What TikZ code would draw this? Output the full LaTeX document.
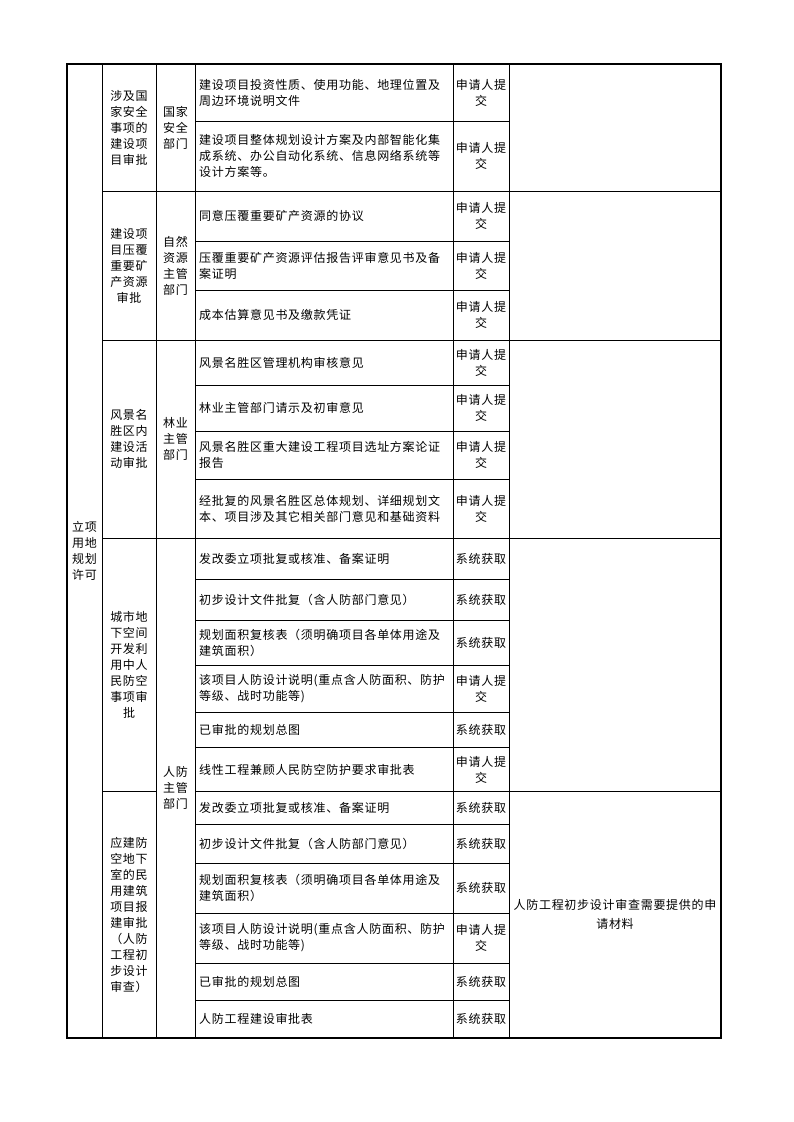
\documentclass[tikz,border=0pt]{standalone}
\usepackage{fontspec}
\newfontfamily\cjkfont[LetterSpace=6]{Noto Sans CJK SC}
\begin{document}
\begin{tikzpicture}[x=1pt, y=-1pt, font=\fontsize{12}{16}\selectfont\cjkfont,
  gridLine/.style={line width=0.9pt},
  itemText/.style={anchor=west, align=left, inner sep=0pt},
  cellText/.style={align=center, inner sep=0pt}]
	\useasboundingbox (0,0) rectangle (793,1122);
	% frame and columns
	\draw[line width=1.2pt] (67,64) rectangle (721,1038);
	\foreach \x in {102,156,195,453,509}
		\draw[gridLine] (\x,64) -- (\x,1038);
	\foreach \y in {191.5,340,538.5}
		\draw[gridLine] (102,\y) -- (721,\y);
	\draw[gridLine] (102,791.5) -- (156,791.5);
	\draw[gridLine] (195,791.5) -- (721,791.5);
	\foreach \y in {121,241,290,385,431.5,479,579.5,620,665,712.5,747.5,824.5,863,913,963,1000}
		\draw[gridLine] (195,\y) -- (509,\y);
	% merged cells
	\node[cellText] (phase) at (84.5,551) {立项\\用地\\规划\\许可};
	\node[cellText] (taskSafety) at (129,127.75) {涉及国\\家安全\\事项的\\建设项\\目审批};
	\node[cellText] (taskMineral) at (129,265.75) {建设项\\目压覆\\重要矿\\产资源\\审批};
	\node[cellText] (taskScenic) at (129,439.25) {风景名\\胜区内\\建设活\\动审批};
	\node[cellText] (taskUnder) at (129,665) {城市地\\下空间\\开发利\\用中人\\民防空\\事项审\\批};
	\node[cellText] (taskShelter) at (129,914.75) {应建防\\空地下\\室的民\\用建筑\\项目报\\建审批\\（人防\\工程初\\步设计\\审查）};
	\node[cellText] (deptSafety) at (175.5,127.75) {国家\\安全\\部门};
	\node[cellText] (deptMineral) at (175.5,265.75) {自然\\资源\\主管\\部门};
	\node[cellText] (deptForest) at (175.5,439.25) {林业\\主管\\部门};
	\node[cellText] (deptDefence) at (175.5,788.25) {人防\\主管\\部门};
	\node[cellText, font=\fontsize{12}{19}\selectfont\cjkfont] (noteShelter) at (615,914.75) {人防工程初步设计审查需要提供的申\\请材料};
	% materials
	\node[itemText] (item1) at (199,92.5) {建设项目投资性质、使用功能、地理位置及\\周边环境说明文件};
	\node[itemText] (item2) at (199,156.25) {建设项目整体规划设计方案及内部智能化集\\成系统、办公自动化系统、信息网络系统等\\设计方案等。};
	\node[itemText] (item3) at (199,216.25) {同意压覆重要矿产资源的协议};
	\node[itemText] (item4) at (199,265.5) {压覆重要矿产资源评估报告评审意见书及备\\案证明};
	\node[itemText] (item5) at (199,315) {成本估算意见书及缴款凭证};
	\node[itemText] (item6) at (199,362.5) {风景名胜区管理机构审核意见};
	\node[itemText] (item7) at (199,408.25) {林业主管部门请示及初审意见};
	\node[itemText] (item8) at (199,455.25) {风景名胜区重大建设工程项目选址方案论证\\报告};
	\node[itemText] (item9) at (199,508.75) {经批复的风景名胜区总体规划、详细规划文\\本、项目涉及其它相关部门意见和基础资料};
	\node[itemText] (item10) at (199,559) {发改委立项批复或核准、备案证明};
	\node[itemText] (item11) at (199,599.75) {初步设计文件批复（含人防部门意见）};
	\node[itemText] (item12) at (199,642.5) {规划面积复核表（须明确项目各单体用途及\\建筑面积）};
	\node[itemText] (item13) at (199,688.75) {该项目人防设计说明(重点含人防面积、防护\\等级、战时功能等)};
	\node[itemText] (item14) at (199,730) {已审批的规划总图};
	\node[itemText] (item15) at (199,769.5) {线性工程兼顾人民防空防护要求审批表};
	\node[itemText] (item16) at (199,808) {发改委立项批复或核准、备案证明};
	\node[itemText] (item17) at (199,843.75) {初步设计文件批复（含人防部门意见）};
	\node[itemText] (item18) at (199,888) {规划面积复核表（须明确项目各单体用途及\\建筑面积）};
	\node[itemText] (item19) at (199,938) {该项目人防设计说明(重点含人防面积、防护\\等级、战时功能等)};
	\node[itemText] (item20) at (199,981.5) {已审批的规划总图};
	\node[itemText] (item21) at (199,1019) {人防工程建设审批表};
	% sources
	\foreach \n/\y in {1/92.5,2/156.25,3/216.25,4/265.5,5/315,6/362.5,7/408.25,8/455.25,9/508.75,13/688.75,15/769.5,19/938}
		\node[cellText] (src\n) at (481,\y) {申请人提\\交};
	\foreach \n/\y in {10/559,11/599.75,12/642.5,14/730,16/808,17/843.75,18/888,20/981.5,21/1019}
		\node[cellText] (src\n) at (481,\y) {系统获取};
\end{tikzpicture}
\end{document}
